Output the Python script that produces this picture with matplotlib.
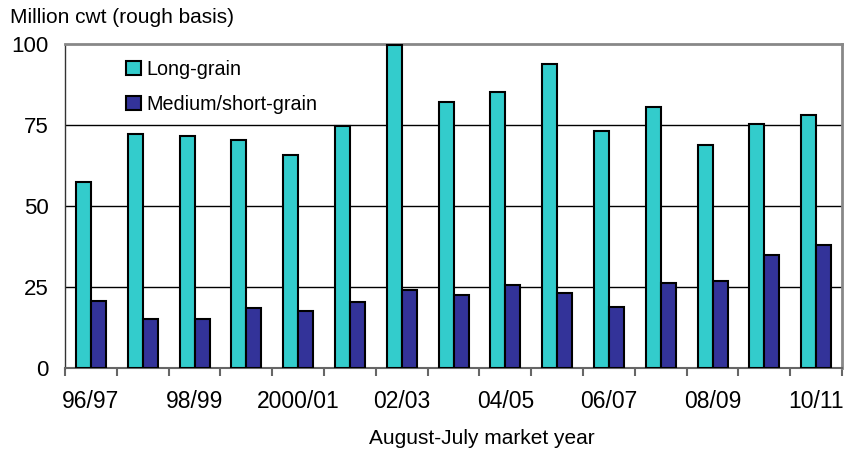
import numpy as np
from matplotlib import pyplot as plt

plt.rcParams['font.family'] = ['Liberation Sans', 'DejaVu Sans']

# August-July market years
years = ['96/97', '97/98', '98/99', '99/00', '2000/01', '01/02', '02/03', '03/04',
         '04/05', '05/06', '06/07', '07/08', '08/09', '09/10', '10/11']
long_grain = [57.3, 72.2, 71.5, 70.3, 65.9, 74.7, 99.8, 82.0,
              85.1, 93.8, 73.1, 80.5, 68.8, 75.4, 78.1]
medium_short = [20.7, 15.3, 15.3, 18.5, 17.5, 20.4, 24.1, 22.7,
                25.5, 23.2, 19.0, 26.2, 26.8, 34.8, 37.9]
shown_labels = ['96/97', '98/99', '2000/01', '02/03', '04/05', '06/07', '08/09', '10/11']

fig = plt.figure(figsize=(8.45, 4.55), dpi=100)
ax = fig.add_axes([0.077, 0.191, 0.9195, 0.712])

x = np.arange(len(years))
w = 0.29
ax.bar(x - w / 2, long_grain, w, color='#33CCCC', edgecolor='black',
       linewidth=1.5, label='Long-grain', zorder=3)
ax.bar(x + w / 2, medium_short, w, color='#333399', edgecolor='black',
       linewidth=1.5, label='Medium/short-grain', zorder=3)

ax.set_xlim(-0.5, len(years) - 0.5)
ax.set_ylim(0, 100)

# gridlines at 25/50/75, grey frame on top and right
ax.set_yticks([0, 25, 50, 75, 100])
ax.tick_params(axis='y', length=0, pad=12, labelsize=16)
for v in [25, 50, 75]:
    ax.axhline(v, color='black', linewidth=1, zorder=1)
for s in ['top', 'right']:
    ax.spines[s].set_color('#888888')
    ax.spines[s].set_linewidth(2)
ax.spines['left'].set_color('#333333')
ax.spines['left'].set_linewidth(1)
ax.spines['bottom'].set_color('#666666')
ax.spines['bottom'].set_linewidth(1.5)

# tick marks between categories, labels every other year
ax.set_xticks(np.arange(len(years) + 1) - 0.5, minor=False)
ax.set_xticklabels([])
ax.tick_params(axis='x', which='major', length=6, width=1.5, color='#666666')
label_pos = [years.index(l) for l in shown_labels]
ax.set_xticks(label_pos, minor=True)
ax.set_xticklabels(shown_labels, minor=True)
ax.tick_params(axis='x', which='minor', length=0, pad=16, labelsize=16.5)

fig.text(0.012, 0.962, 'Million cwt (rough basis)', fontsize=15, va='center', ha='left')
fig.text(482 / 845, 1 - 438 / 455, 'August-July market year', fontsize=15,
         va='center', ha='center')

ax.legend(loc='upper left', bbox_to_anchor=(0.056, 1.006), frameon=False,
          fontsize=14.2, handlelength=0.75, handleheight=0.75,
          handletextpad=0.25, labelspacing=0.8)

plt.savefig('out.png', dpi=100)
